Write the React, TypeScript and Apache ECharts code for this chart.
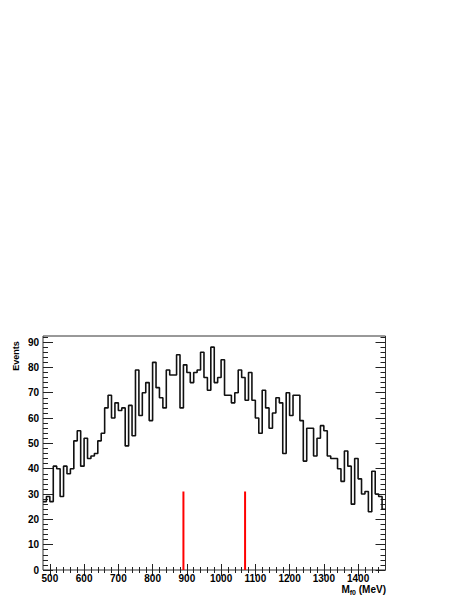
import React, { useEffect, useRef } from "react";
import * as echarts from "echarts";

const BIN_START = 480;
const BIN_WIDTH = 10;
const COUNTS = [
  27, 29, 27, 41, 40, 29, 41, 38, 40, 51,
  55, 41, 52, 44, 45, 46, 51, 54, 64, 69,
  60, 66, 63, 64, 49, 65, 53, 79, 61, 70,
  74, 59, 82, 72, 68, 64, 79, 77, 77, 85,
  64, 81, 78, 74, 78, 79, 86, 76, 71, 88,
  74, 76, 83, 69, 69, 66, 70, 79, 76, 67,
  78, 67, 60, 54, 71, 64, 56, 62, 68, 66,
  46, 70, 61, 69, 69, 59, 43, 56, 56, 45,
  52, 57, 55, 45, 44, 44, 40, 35, 47, 41,
  26, 44, 36, 30, 31, 23, 39, 30, 29, 24,
];
const MARKERS = [890, 1070];
const MARKER_HEIGHT = 31;

const X_MIN = 480;
const X_MAX = 1480;
const Y_MIN = 0;
const Y_MAX = 92.4;
const X_MAJOR = [500, 600, 700, 800, 900, 1000, 1100, 1200, 1300, 1400];
const X_MINOR_STEP = 20;
const Y_MAJOR = [0, 10, 20, 30, 40, 50, 60, 70, 80, 90];
const Y_MINOR_STEP = 2;

const X_TITLE_MAIN = "M";
const X_TITLE_SUB = "f0";
const X_TITLE_UNIT = " (MeV)";
const Y_TITLE = "Events";

const FONT = "'Liberation Sans', Arial, Helvetica, sans-serif";

function minorTicks(lo: number, hi: number, step: number, majors: number[]) {
  const out: number[] = [];
  for (let v = lo; v <= hi + 1e-9; v += step) {
    const r = Math.round(v * 100) / 100;
    if (!majors.includes(r) && r > lo && r < hi) out.push(r);
  }
  return out;
}

export default function App() {
  const ref = useRef<HTMLDivElement>(null);
  useEffect(() => {
    if (!ref.current) return;
    const chart = echarts.init(ref.current, undefined, { renderer: "svg" });

    const X_MINOR = minorTicks(X_MIN, X_MAX, X_MINOR_STEP, X_MAJOR);
    const Y_MINOR = minorTicks(Y_MIN, Y_MAX, Y_MINOR_STEP, Y_MAJOR);

    const histData: number[][] = COUNTS.map((c, i) => [BIN_START + i * BIN_WIDTH, c]);
    histData.push([BIN_START + COUNTS.length * BIN_WIDTH, COUNTS[COUNTS.length - 1]]);

    const labelStyle = {
      fontFamily: FONT,
      fontWeight: "bold" as const,
      fontSize: 10,
      color: "#000",
      formatter: (v: number) => String(v),
    };

    const xAxisBase = {
      type: "value" as const,
      min: X_MIN,
      max: X_MAX,
      splitLine: { show: false },
      axisLine: { show: false },
    };
    const yAxisBase = {
      type: "value" as const,
      min: Y_MIN,
      max: Y_MAX,
      splitLine: { show: false },
      axisLine: { show: false },
    };
    const tickLine = { color: "#222", width: 1 };

    chart.setOption({
      animation: false,
      backgroundColor: "#fff",
      grid: {
        left: 43,
        right: 77.5,
        top: 336,
        bottom: 29,
        show: true,
        borderColor: "#333",
        borderWidth: 1,
        backgroundColor: "transparent",
        containLabel: false,
        outerBoundsMode: "none",
      },
      xAxis: [
        {
          ...xAxisBase,
          position: "bottom",
          axisTick: { show: true, inside: true, length: 6, lineStyle: tickLine, customValues: X_MAJOR },
          axisLabel: { ...labelStyle, margin: 3, customValues: X_MAJOR },
        },
        {
          ...xAxisBase,
          position: "bottom",
          axisTick: { show: true, inside: true, length: 3, lineStyle: tickLine, customValues: X_MINOR },
          axisLabel: { show: false },
        },
        {
          ...xAxisBase,
          position: "top",
          axisTick: { show: true, inside: true, length: 6, lineStyle: tickLine, customValues: X_MAJOR },
          axisLabel: { show: false },
        },
        {
          ...xAxisBase,
          position: "top",
          axisTick: { show: true, inside: true, length: 3, lineStyle: tickLine, customValues: X_MINOR },
          axisLabel: { show: false },
        },
      ],
      yAxis: [
        {
          ...yAxisBase,
          position: "left",
          axisTick: { show: true, inside: true, length: 10, lineStyle: tickLine, customValues: Y_MAJOR },
          axisLabel: { ...labelStyle, margin: 4, customValues: Y_MAJOR },
        },
        {
          ...yAxisBase,
          position: "left",
          axisTick: { show: true, inside: true, length: 5, lineStyle: tickLine, customValues: Y_MINOR },
          axisLabel: { show: false },
        },
        {
          ...yAxisBase,
          position: "right",
          axisTick: { show: true, inside: true, length: 10, lineStyle: tickLine, customValues: Y_MAJOR },
          axisLabel: { show: false },
        },
        {
          ...yAxisBase,
          position: "right",
          axisTick: { show: true, inside: true, length: 5, lineStyle: tickLine, customValues: Y_MINOR },
          axisLabel: { show: false },
        },
      ],
      series: [
        {
          type: "line",
          step: "end",
          xAxisIndex: 0,
          yAxisIndex: 0,
          data: histData,
          showSymbol: false,
          symbol: "none",
          clip: true,
          lineStyle: { color: "#111", width: 1.6 },
          z: 3,
        },
        ...MARKERS.map((m) => ({
          type: "line" as const,
          xAxisIndex: 0,
          yAxisIndex: 0,
          data: [
            [m, 0],
            [m, MARKER_HEIGHT],
          ],
          symbol: "none",
          lineStyle: { color: "#ff0000", width: 2 },
          z: 2,
        })),
      ],
      graphic: [
        {
          type: "text",
          x: 15.5,
          y: 356,
          rotation: Math.PI / 2,
          style: {
            text: Y_TITLE,
            fontFamily: FONT,
            fontWeight: "bold",
            fontSize: 9,
            fill: "#000",
            align: "center",
            verticalAlign: "middle",
          },
        },
        {
          type: "text",
          x: 386,
          y: 589,
          style: {
            text: `{m|${X_TITLE_MAIN}}{s|${X_TITLE_SUB}}{m|${X_TITLE_UNIT}}`,
            align: "right",
            verticalAlign: "middle",
            rich: {
              m: { fontFamily: FONT, fontWeight: "bold", fontSize: 10, fill: "#000", lineHeight: 12 },
              s: {
                fontFamily: FONT,
                fontWeight: "bold",
                fontSize: 7,
                fill: "#000",
                lineHeight: 12,
                padding: [6, 0, 0, 0],
              },
            },
          },
        },
      ],
    });
    return () => chart.dispose();
  }, []);
  return (
    <div
      ref={ref}
      style={{ position: "fixed", left: 0, top: 0, width: 463, height: 599 }}
    />
  );
}
